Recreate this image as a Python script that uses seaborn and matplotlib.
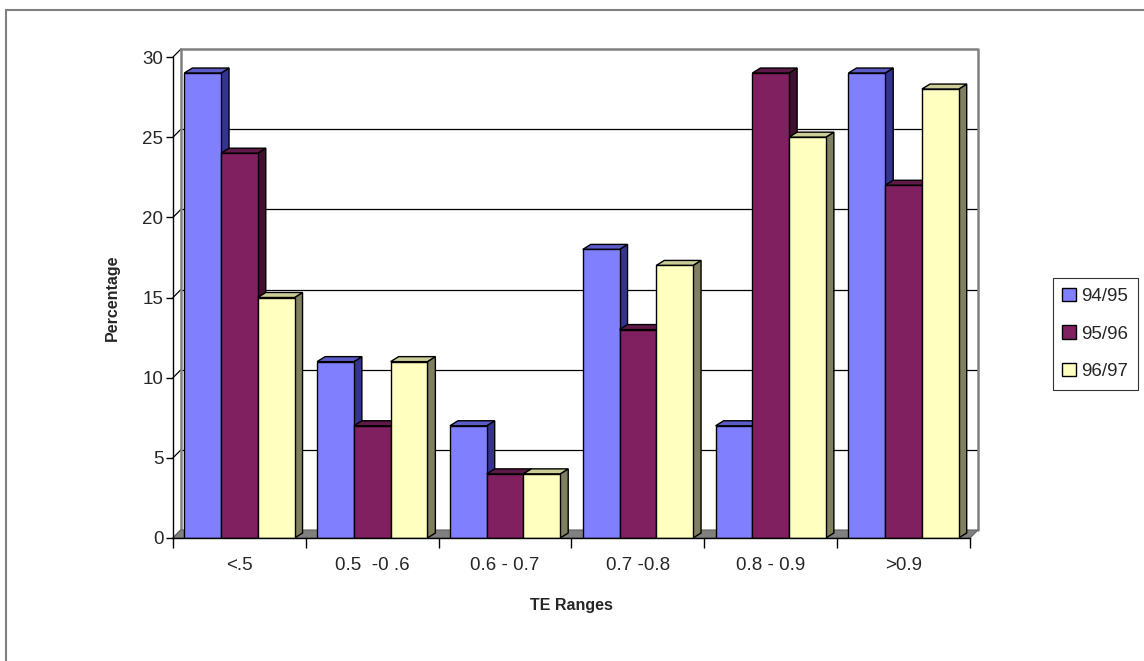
import numpy as np
import pandas as pd
import matplotlib
matplotlib.use("Agg")
import matplotlib.pyplot as plt
import seaborn as sns
from matplotlib.patches import Polygon, Rectangle, Patch

# data
kategoriak = ["<.5", "0.5  -0 .6", "0.6 - 0.7", "0.7 -0.8", "0.8 - 0.9", ">0.9"]
evek = ["94/95", "95/96", "96/97"]
ertekek_9495 = [29, 11, 7, 18, 7, 29]
ertekek_9596 = [24, 7, 4, 13, 29, 22]
ertekek_9697 = [15, 11, 4, 17, 25, 28]

szin_elol = ["#8080FF", "#802060", "#FFFFC0"]
szin_oldal = ["#343490", "#40102F", "#808060"]
szin_teto = ["#5C5CC8", "#601848", "#CCCC96"]

df = pd.DataFrame({
    "Kategoria": kategoriak * 3,
    "Ev": np.repeat(evek, len(kategoriak)),
    "Szazalek": ertekek_9495 + ertekek_9596 + ertekek_9697,
})

sns.set_theme(style="white")
plt.rcParams["font.family"] = ["Liberation Sans", "DejaVu Sans"]

fig = plt.figure(figsize=(11.44, 6.61), dpi=100)
W, H = 1144, 661
ax = fig.add_axes([173 / W, (H - 538) / H, 797 / W, 481 / H])

sns.barplot(data=df, x="Kategoria", y="Szazalek", hue="Ev", order=kategoriak,
            hue_order=evek, palette=szin_elol, width=0.83, saturation=1,
            edgecolor="black", linewidth=1, legend=False, ax=ax)

ax.set_xlim(-0.5, 5.5)
ax.set_ylim(0, 30)
ax.set_yticks(range(0, 31, 5))
for s in ["top", "right"]:
    ax.spines[s].set_visible(False)
for s in ["left", "bottom"]:
    ax.spines[s].set_color("black")
    ax.spines[s].set_linewidth(1)
    ax.spines[s].set_zorder(10)
ax.patch.set_alpha(0)


def pont(x, y, dx=0, dy=0):
    # data point shifted by pixels
    px, py = ax.transData.transform((x, y))
    return ax.transData.inverted().transform((px + dx, py + dy))


# back wall, floor, side wall
fal_dx, fal_dy = 8, 8
for t in range(0, 31, 5):
    a = pont(-0.5, t)
    b = pont(-0.5, t, fal_dx, fal_dy)
    c = pont(5.5, t, fal_dx, fal_dy)
    ax.plot([a[0], b[0]], [a[1], b[1]], color="black", lw=0.9, zorder=0.5, clip_on=False)
    if 0 < t < 30:
        ax.plot([b[0], c[0]], [b[1], c[1]], color="black", lw=0.9, zorder=0.5, clip_on=False)
bal_also = pont(-0.5, 0, fal_dx, fal_dy)
bal_felso = pont(-0.5, 30, fal_dx, fal_dy)
jobb_also = pont(5.5, 0, fal_dx, fal_dy)
jobb_felso = pont(5.5, 30, fal_dx, fal_dy)
ax.plot([bal_also[0], bal_felso[0], jobb_felso[0], jobb_also[0]],
        [bal_also[1], bal_felso[1], jobb_felso[1], jobb_also[1]],
        color="#808080", lw=1.8, zorder=0.6, clip_on=False)
padlo = Polygon([pont(-0.5, 0), pont(5.5, 0), jobb_also, bal_also],
                closed=True, facecolor="#808080", edgecolor="#606060", lw=0.8,
                zorder=0.7, clip_on=False)
ax.add_patch(padlo)

# 3d faces on the bars
oszlop_dx, oszlop_dy = 8, 5
oszlopok = [p for p in ax.patches if isinstance(p, Rectangle) and p.get_height() > 0]
oszlopok = sorted(oszlopok, key=lambda p: p.get_x())
szin_map = {matplotlib.colors.to_hex(c).lower(): i for i, c in enumerate(szin_elol)}
for k, p in enumerate(oszlopok):
    x0, w, h = p.get_x(), p.get_width(), p.get_height()
    i = szin_map.get(matplotlib.colors.to_hex(p.get_facecolor()).lower(), 0)
    z = 2 + k * 0.01
    p.set_zorder(z + 0.005)
    oldal = Polygon([pont(x0 + w, 0), pont(x0 + w, 0, oszlop_dx, oszlop_dy),
                     pont(x0 + w, h, oszlop_dx, oszlop_dy), pont(x0 + w, h)],
                    closed=True, facecolor=szin_oldal[i], edgecolor="black",
                    lw=1, zorder=z, clip_on=False)
    teto = Polygon([pont(x0, h), pont(x0, h, oszlop_dx, oszlop_dy),
                    pont(x0 + w, h, oszlop_dx, oszlop_dy), pont(x0 + w, h)],
                   closed=True, facecolor=szin_teto[i], edgecolor="black",
                   lw=1, zorder=z, clip_on=False)
    ax.add_patch(oldal)
    ax.add_patch(teto)

# ticks: labels at centres, tick marks at category borders
ax.set_xticks(range(len(kategoriak)))
ax.set_xticklabels(kategoriak, fontsize=13.5)
ax.set_xticks(np.arange(-0.5, 6, 1), minor=True)
ax.tick_params(axis="x", which="major", length=0, pad=14)
ax.tick_params(axis="x", which="minor", length=7, width=1, color="black", bottom=True)
ax.tick_params(axis="y", length=5, width=1, color="black", left=True, labelsize=13.5, pad=2)

ax.set_xlabel("TE Ranges", fontsize=11.5, fontweight="bold", labelpad=17)
ax.set_ylabel("Percentage", fontsize=11.5, fontweight="bold", labelpad=16)

kezelok = [Patch(facecolor=c, edgecolor="black", lw=1) for c in szin_elol]
leg = fig.legend(kezelok, evek, loc="center left", bbox_to_anchor=(1053 / W, (H - 334) / H),
                 fontsize=13.5, frameon=True, fancybox=False, handlelength=0.7,
                 handleheight=0.7, handletextpad=0.3, labelspacing=1.1,
                 borderpad=0.5, borderaxespad=0)
leg.get_frame().set_edgecolor("black")
leg.get_frame().set_linewidth(0.8)

# outer chart frame
fig.patches.append(Rectangle((5.5 / W, -0.05), 1.2, (H - 10) / H + 0.05,
                             transform=fig.transFigure, fill=False,
                             edgecolor="#808080", lw=1.5))

fig.savefig("out.png", dpi=100)
